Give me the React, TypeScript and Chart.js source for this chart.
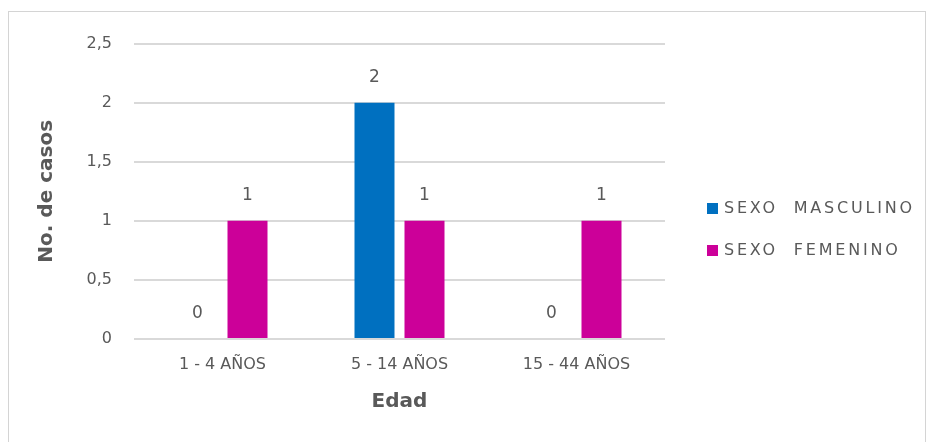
import React, { useEffect, useRef } from "react";
import { Chart, registerables } from "chart.js";

Chart.register(...registerables);

const categories = ["1 - 4 AÑOS", "5 - 14 AÑOS", "15 - 44 AÑOS"];
const seriesNames = ["SEXO  MASCULINO", "SEXO  FEMENINO"];
const masculino = [0, 2, 0];
const femenino = [1, 1, 1];
const seriesColors = ["#0070C0", "#CC0099"];
const yMin = 0;
const yMax = 2.5;
const yStep = 0.5;
const yTitle = "No. de casos";
const xTitle = "Edad";

const FONT = "'DejaVu Sans', sans-serif";
const TEXT = "#595959";
const GRID = "#d9d9d9";

const dataLabels = {
  id: "dataLabels",
  afterDatasetsDraw(chart: any) {
    const { ctx } = chart;
    ctx.save();
    ctx.font = `17px ${FONT}`;
    ctx.fillStyle = TEXT;
    ctx.textAlign = "center";
    ctx.textBaseline = "middle";
    chart.data.datasets.forEach((ds: any, i: number) => {
      const meta = chart.getDatasetMeta(i);
      meta.data.forEach((el: any, j: number) => {
        ctx.fillText(String(ds.data[j]), el.x, el.y - 25);
      });
    });
    ctx.restore();
  },
};

const sideLegend = {
  id: "sideLegend",
  afterDraw(chart: any) {
    const { ctx, chartArea } = chart;
    ctx.save();
    ctx.font = `16px ${FONT}`;
    ctx.textBaseline = "middle";
    ctx.textAlign = "left";
    chart.data.datasets.forEach((ds: any, i: number) => {
      const y = chart.height / 2 - 18.5 + i * 42;
      const x = chartArea.right + 42;
      ctx.fillStyle = ds.backgroundColor;
      ctx.fillRect(x, y - 5.5, 11, 11);
      ctx.fillStyle = TEXT;
      (ctx as any).letterSpacing = "2.8px";
      ctx.fillText(ds.label, x + 17, y);
    });
    ctx.restore();
  },
};

export default function App() {
  const canvasRef = useRef<HTMLCanvasElement | null>(null);

  useEffect(() => {
    document.body.style.margin = "0";
    document.body.style.overflow = "hidden";
    const canvas = canvasRef.current;
    if (!canvas) return;
    const chart = new Chart(canvas, {
      type: "bar",
      data: {
        labels: categories,
        datasets: [
          { label: seriesNames[0], data: masculino, backgroundColor: seriesColors[0] },
          { label: seriesNames[1], data: femenino, backgroundColor: seriesColors[1] },
        ],
      },
      options: {
        responsive: false,
        animation: false,
        devicePixelRatio: 1,
        layout: { padding: { top: 29, left: 26, right: 260, bottom: 28 } },
        datasets: {
          bar: { categoryPercentage: 0.565, barPercentage: 0.8 },
        },
        plugins: {
          legend: { display: false },
          tooltip: { enabled: false },
        },
        scales: {
          x: {
            grid: { display: false, drawTicks: false },
            border: { display: false },
            ticks: { color: TEXT, font: { family: FONT, size: 16 }, padding: 16 },
            title: {
              display: true,
              text: xTitle,
              color: TEXT,
              font: { family: FONT, size: 20, weight: "bold" },
              padding: { top: 0, bottom: 0 },
            },
            afterFit: (s: any) => {
              s.height = 75;
            },
          },
          y: {
            min: yMin,
            max: yMax,
            grid: { color: GRID, lineWidth: 2, drawTicks: false },
            border: { display: false },
            ticks: {
              stepSize: yStep,
              color: TEXT,
              font: { family: FONT, size: 16 },
              padding: 22,
              callback: (v: any) => String(v).replace(".", ","),
            },
            title: {
              display: true,
              text: yTitle,
              color: TEXT,
              font: { family: FONT, size: 20, weight: "bold" },
              padding: { top: 0, bottom: 0 },
            },
            afterFit: (s: any) => {
              s.width = 99;
            },
          },
        },
      },
      plugins: [dataLabels, sideLegend],
    });
    return () => chart.destroy();
  }, []);

  return (
    <div
      style={{
        position: "fixed",
        left: 8,
        top: 11,
        width: 918,
        height: 431,
        boxSizing: "border-box",
        border: "1px solid #d4d4d4",
        borderBottom: "none",
        background: "#fff",
      }}
    >
      <canvas ref={canvasRef} width={916} height={430} style={{ display: "block" }} />
    </div>
  );
}
